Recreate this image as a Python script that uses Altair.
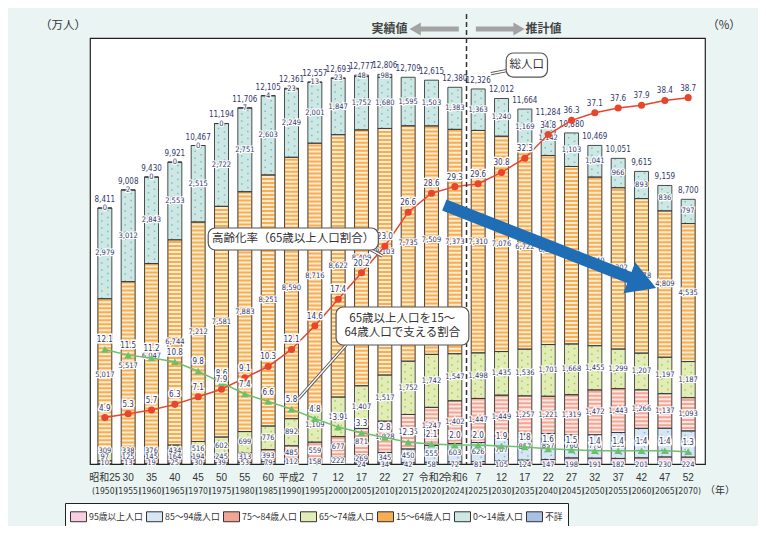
import altair as alt
import pandas as pd

# ---------------- data ----------------
era_labels = ["昭和25", "30", "35", "40", "45", "50", "55", "60", "平成2", "7", "12", "17", "22",
              "27", "令和2", "令和6", "7", "12", "17", "22", "27", "32", "37", "42", "47", "52"]
years = [1950, 1955, 1960, 1965, 1970, 1975, 1980, 1985, 1990, 1995, 2000, 2005, 2010,
         2015, 2020, 2024, 2025, 2030, 2035, 2040, 2045, 2050, 2055, 2060, 2065, 2070]

pop_95plus = [None, None, None, None, None, None, None, None, None, None, None,
              24, 34, 42, 58, 72, 81, 105, 124, 147, 198, 191, 182, 201, 230, 224]
pop_85_94 = [10, 13, 19, 25, 30, 39, 53, 79, 112, 158, 222,
             269, 345, 450, 555, 603, 626, 707, 857, 857, 760, 770, 853, 970, 945, 863]
pop_75_84 = [97, 125, 145, 164, 194, 245, 313, 393, 485, 559, 677,
             871, 1028, 1135, 1247, 1402, 1447, 1449, 1257, 1221, 1319, 1472, 1443, 1266, 1137, 1093]
pop_65_74 = [309, 338, 376, 434, 516, 602, 699, 776, 892, 1109, 1301,
             1407, 1517, 1752, 1742, 1547, 1498, 1435, 1536, 1701, 1668, 1455, 1299, 1207, 1197, 1187]
pop_15_64 = [5017, 5517, 6047, 6744, 7212, 7581, 7883, 8251, 8590, 8716, 8622, 8409, 8103,
             7735, 7509, 7373, 7310, 7076, 6722, 6213, 5832, 5540, 5302, 5078, 4809, 4535]
pop_0_14 = [2979, 3012, 2843, 2553, 2515, 2722, 2751, 2603, 2249, 2001, 1847, 1752, 1680,
            1595, 1503, 1383, 1363, 1240, 1169, 1142, 1103, 1041, 966, 893, 836, 797]
pop_unknown = [0, 2, 0, 0, 0, 0, 7, 4, 23, 13, 23, 48, 98,
               None, None, None, None, None, None, None, None, None, None, None, None, None]
totals = [8411, 9008, 9430, 9921, 10467, 11194, 11706, 12105, 12361, 12557, 12693, 12777, 12806,
          12709, 12615, 12380, 12326, 12012, 11664, 11284, 10880, 10469, 10051, 9615, 9159, 8700]

aging_rate = [4.9, 5.3, 5.7, 6.3, 7.1, 7.9, 9.1, 10.3, 12.1, 14.6, 17.4, 20.2, 23.0,
              26.6, 28.6, 29.3, 29.6, 30.8, 32.3, 34.8, 36.3, 37.1, 37.6, 37.9, 38.4, 38.7]
support_ratio = [12.1, 11.5, 11.2, 10.8, 9.8, 8.6, 7.4, 6.6, 5.8, 4.8, 3.9, 3.3, 2.8,
                 2.3, 2.1, 2.0, 2.0, 1.9, 1.8, 1.6, 1.5, 1.4, 1.4, 1.4, 1.4, 1.3]

seg_names = ["95歳以上人口", "85～94歳人口", "75～84歳人口", "65～74歳人口",
             "15～64歳人口", "0～14歳人口", "不詳"]
series = [pop_95plus, pop_85_94, pop_75_84, pop_65_74, pop_15_64, pop_0_14, pop_unknown]

# ---------------- styles ----------------
seg_fill = ["#f7cfe1", "#d6e6f5", "#f3a595", "#e2edb6", "#f7ad52", "#cde8e4", "#a8c0e6"]
striped = ["75～84歳人口", "15～64歳人口", "不詳"]
dotted = ["85～94歳人口", "65～74歳人口", "0～14歳人口"]
tex_domain = striped + dotted
tex_range = ["#fde9e3", "#feebd0", "#eef3fb", "#8eb1da", "#a3c65a", "#74c1b9"]

FONT_NUM = "Liberation Sans, Noto Sans CJK JP"
FONT_NARROW = "Liberation Sans Narrow, DejaVu Sans Condensed, Liberation Sans, Noto Sans CJK JP"
FONT_JP = "Noto Sans CJK JP"
LBL = "#33376a"
RED = "#e8452c"
GREEN = "#6cc06a"

rows = []
for k, (name, vals) in enumerate(zip(seg_names, series)):
    for i, v in enumerate(vals):
        rows.append({"idx": i, "seg": name, "ord": k, "value": v})
seg_df = pd.DataFrame(rows)
tot_df = pd.DataFrame({"idx": list(range(len(totals))), "total": totals})
line_df = pd.DataFrame({"idx": list(range(len(years))), "aging": aging_rate, "support": support_ratio})
xl_df = pd.DataFrame({"idx": list(range(len(years))), "era": era_labels,
                      "yr": ["(" + str(y) + ")" for y in years]})

x_scale = alt.Scale(domain=[-0.4216, 25.506], nice=False, zero=False)
yl_scale = alt.Scale(domain=[0, 14000], nice=False)
yr_scale = alt.Scale(domain=[0, 45], nice=False)
X = alt.X("idx:Q", scale=x_scale, axis=None)

# ---------------- left group: stacked bars ----------------
base = (alt.Chart(seg_df)
        .transform_filter("isValid(datum.value)")
        .transform_stack(stack="value", groupby=["idx"],
                         sort=[alt.SortField("ord", order="ascending")], as_=["y0", "y1"])
        .transform_calculate(mid="(datum.y0 + datum.y1) / 2")
        # small elderly segments: keep their labels apart near the baseline
        .transform_calculate(lab="datum.ord == 0 ? -20 : datum.ord == 1 ? max(datum.mid, 20) : "
                                 "datum.ord == 2 ? max(datum.mid, 230) : "
                                 "datum.ord == 3 ? max(datum.mid, 440) : datum.mid"))

left_axis = alt.Axis(orient="left", values=list(range(0, 14001, 2000)), format=",",
                     labelFontSize=12.5, labelColor="#333", labelFont=FONT_NUM, labelPadding=3,
                     tickSize=5, tickColor="#222", domain=False,
                     grid=True, gridColor="#222", gridWidth=1, title=None)

legend_rect = "M-1,-0.62H1V0.62H-1Z"
bars = base.mark_bar(width=14).encode(
    x=alt.X("idx:Q", scale=x_scale,
            axis=alt.Axis(values=[i + 0.5 for i in range(25)], labels=False, ticks=True,
                          tickSize=5, tickColor="#333", domain=False, grid=False, title=None)),
    y=alt.Y("y0:Q", scale=yl_scale, axis=left_axis),
    y2="y1:Q",
    color=alt.Color("seg:N", scale=alt.Scale(domain=seg_names, range=seg_fill),
                    legend=alt.Legend(title=None, orient="none", legendX=-25, legendY=465,
                                      direction="horizontal", columns=7,
                                      symbolType=legend_rect, symbolSize=256,
                                      symbolStrokeColor="#333", symbolStrokeWidth=1,
                                      labelFont=FONT_JP, labelFontSize=8.8, labelColor="#333",
                                      labelOffset=2, columnPadding=1,
                                      fillColor="white", strokeColor="#222", padding=5)),
)

Yn = alt.Y("y0:Q", scale=yl_scale, axis=None)
tex = alt.Stroke("seg:N", scale=alt.Scale(domain=tex_domain, range=tex_range), legend=None)

stripes = base.transform_filter(alt.FieldOneOfPredicate(field="seg", oneOf=striped)).mark_rule(
    strokeWidth=12.4, strokeDash=[2, 2]).encode(x=X, y=Yn, y2="y1:Q", stroke=tex)
dots_a = base.transform_filter(alt.FieldOneOfPredicate(field="seg", oneOf=dotted)).mark_rule(
    strokeWidth=1.5, strokeDash=[1.5, 5.5], xOffset=-3).encode(x=X, y=Yn, y2="y1:Q", stroke=tex)
dots_b = base.transform_filter(alt.FieldOneOfPredicate(field="seg", oneOf=dotted)).mark_rule(
    strokeWidth=1.5, strokeDash=[1.5, 5.5], strokeDashOffset=3.5, xOffset=3).encode(
    x=X, y=Yn, y2="y1:Q", stroke=tex)
outline = base.mark_bar(width=14, fillOpacity=0, stroke="#3a3a3a", strokeWidth=0.9).encode(
    x=X, y=Yn, y2="y1:Q")

Ylab = alt.Y("lab:Q", scale=yl_scale, axis=None)
seg_halo = base.mark_text(fontSize=7.5, font=FONT_NARROW, color="white", stroke="white",
                          strokeWidth=2.2).encode(x=X, y=Ylab, text=alt.Text("value:Q", format=","))
seg_text = base.mark_text(fontSize=7.5, font=FONT_NARROW, color=LBL).encode(
    x=X, y=Ylab, text=alt.Text("value:Q", format=","))

Ytot = alt.Y("total:Q", scale=yl_scale, axis=None)
tot_halo = alt.Chart(tot_df).mark_text(fontSize=8, font=FONT_NARROW, dy=-8, color="white",
                                       stroke="white", strokeWidth=2.2).encode(
    x=X, y=Ytot, text=alt.Text("total:Q", format=","))
tot_text = alt.Chart(tot_df).mark_text(fontSize=8, font=FONT_NARROW, dy=-8, color=LBL).encode(
    x=X, y=Ytot, text=alt.Text("total:Q", format=","))

era_text = alt.Chart(xl_df).mark_text(fontSize=10, font=FONT_NUM, color="#333").encode(
    x=X, y=alt.value(440), text="era:N")
yr_text = alt.Chart(xl_df).mark_text(fontSize=8.6, font=FONT_NARROW, color="#333").encode(
    x=X, y=alt.value(453), text="yr:N")

left = alt.layer(bars, stripes, dots_a, dots_b, outline, seg_halo, seg_text, tot_halo, tot_text,
                 era_text, yr_text)

# ---------------- right group: ratios ----------------
rbase = alt.Chart(line_df)
right_axis = alt.Axis(orient="right", values=list(range(0, 46, 5)), format=".1f",
                      labelFontSize=14, labelFont=FONT_NUM, labelColor="#333", labelPadding=2,
                      tickSize=5, tickColor="#222", domain=False, grid=False, title=None)
Ya = alt.Y("aging:Q", scale=yr_scale, axis=None)
Ys = alt.Y("support:Q", scale=yr_scale, axis=None)

aging_line = rbase.mark_line(color=RED, strokeWidth=1.5).encode(
    x=X, y=alt.Y("aging:Q", scale=yr_scale, axis=right_axis))
aging_pts = rbase.mark_point(shape="circle", filled=True, size=50, color=RED, opacity=1).encode(x=X, y=Ya)
support_line = rbase.mark_line(color=GREEN, strokeWidth=1.5).encode(x=X, y=Ys)
support_pts = rbase.mark_point(shape="triangle-up", filled=True, size=60, color=GREEN, opacity=1).encode(x=X, y=Ys)

def ratio_labels(field, Y):
    halo = rbase.mark_text(fontSize=8, font=FONT_NARROW, dy=-9, color="white", stroke="white",
                           strokeWidth=3).encode(x=X, y=Y, text=alt.Text(field + ":Q", format=".1f"))
    txt = rbase.mark_text(fontSize=8, font=FONT_NARROW, dy=-9, color=LBL).encode(
        x=X, y=Y, text=alt.Text(field + ":Q", format=".1f"))
    return [halo, txt]

right = alt.layer(aging_line, support_line, aging_pts, support_pts,
                  *ratio_labels("support", Ys), *ratio_labels("aging", Ya))

# ---------------- annotations ----------------
XA = alt.X("x:Q", scale=x_scale, axis=None)
YA = alt.Y("y:Q", scale=yl_scale, axis=None)

div_df = pd.DataFrame({"x": [15.5]})
divider = alt.Chart(div_df).mark_rule(color="#333", strokeWidth=1.5, strokeDash=[5, 3]).encode(
    x=XA, y=alt.value(-24), y2=alt.value(426))

unit_df = pd.DataFrame({"t": ["（万人）", "（%）", "（年）"]})
unit_l = alt.Chart(unit_df).transform_filter("datum.t == '（万人）'").mark_text(
    fontSize=11.5, font=FONT_JP, color="#333").encode(x=alt.value(-27), y=alt.value(-12), text="t:N")
unit_r = alt.Chart(unit_df).transform_filter("datum.t == '（%）'").mark_text(
    fontSize=11.5, font=FONT_JP, color="#333").encode(x=alt.value(634), y=alt.value(-12), text="t:N")
unit_x = alt.Chart(unit_df).transform_filter("datum.t == '（年）'").mark_text(
    fontSize=10, font=FONT_JP, color="#333").encode(x=alt.value(630), y=alt.value(453), text="t:N")

top_shaft_df = pd.DataFrame({"x": [15.17, 15.9], "x2": [13.45, 17.6]})
top_head_df = pd.DataFrame({"x": [13.3, 17.75], "shape": ["triangle-left", "triangle-right"]})
top_text_df = pd.DataFrame({"x": [12.2, 18.8], "t": ["実績値", "推計値"]})
top_shaft = alt.Chart(top_shaft_df).mark_rule(color="#a3a3a3", strokeWidth=5).encode(
    x=XA, x2="x2:Q", y=alt.value(-9))
top_head = alt.Chart(top_head_df).mark_point(filled=True, size=170, color="#a3a3a3", opacity=1).encode(
    x=XA, y=alt.value(-9), shape=alt.Shape("shape:N", scale=None))
top_text = alt.Chart(top_text_df).mark_text(fontSize=12, font=FONT_JP, color="#444", fontWeight="bold").encode(
    x=XA, y=alt.value(-9), text="t:N")

arrow_df = pd.DataFrame({"x": [14.55, 22.75], "y": [8512, 6047]})
arrow_head_df = pd.DataFrame({"x": [23.05], "y": [5950]})
blue_shaft = alt.Chart(arrow_df).mark_line(color="#1f6db5", strokeWidth=12, strokeCap="butt").encode(x=XA, y=YA)
blue_head = alt.Chart(arrow_head_df).mark_point(shape="triangle-right", filled=True, size=1100,
                                                color="#1f6db5", opacity=1, angle=21).encode(x=XA, y=YA)

pointer_df = pd.DataFrame({"x": [17.35, 11.35, 10.35], "y": [12950, 7060, 3920],
                           "x2": [16.55, 11.9, 8.3], "y2": [12830, 6830, 2150]})
pointers_o = alt.Chart(pointer_df).mark_rule(color="#555", strokeWidth=3.2).encode(
    x=XA, y=YA, x2="x2:Q", y2="y2:Q")
pointers_i = alt.Chart(pointer_df).mark_rule(color="white", strokeWidth=1.4).encode(
    x=XA, y=YA, x2="x2:Q", y2="y2:Q")

box_df = pd.DataFrame({"x": [17.2, 4.43, 9.91], "x2": [18.97, 11.72, 15.6],
                       "y": [13507, 7756, 5160], "y2": [12717, 7033, 3911]})
boxes = alt.Chart(box_df).mark_rect(fill="white", stroke="#555", strokeWidth=1.2, cornerRadius=7).encode(
    x=XA, x2="x2:Q", y=YA, y2="y2:Q")
box_text_df = pd.DataFrame({"x": [18.08, 8.07, 12.75, 12.75], "y": [13110, 7395, 4780, 4300],
                            "t": ["総人口", "高齢化率（65歳以上人口割合）", "65歳以上人口を15～", "64歳人口で支える割合"]})
box_text = alt.Chart(box_text_df).mark_text(fontSize=11.5, font=FONT_JP, color="#333").encode(
    x=XA, y=YA, text="t:N")

ann = alt.layer(divider, unit_l, unit_r, unit_x, top_shaft, top_head, top_text, blue_shaft, blue_head,
                pointers_o, pointers_i, boxes, box_text)

chart = (alt.layer(left, right, ann)
         .resolve_scale(y="independent")
         .properties(width=615, height=426, background="#eaf5f3",
                     padding={"left": 82, "top": 30, "right": 53, "bottom": 62},
                     autosize=alt.AutoSizeParams(type="none"))
         .configure_view(fill="white", stroke="#222", strokeWidth=1.2))

chart.save("out.html", embed_options={"renderer": "svg", "actions": False})
